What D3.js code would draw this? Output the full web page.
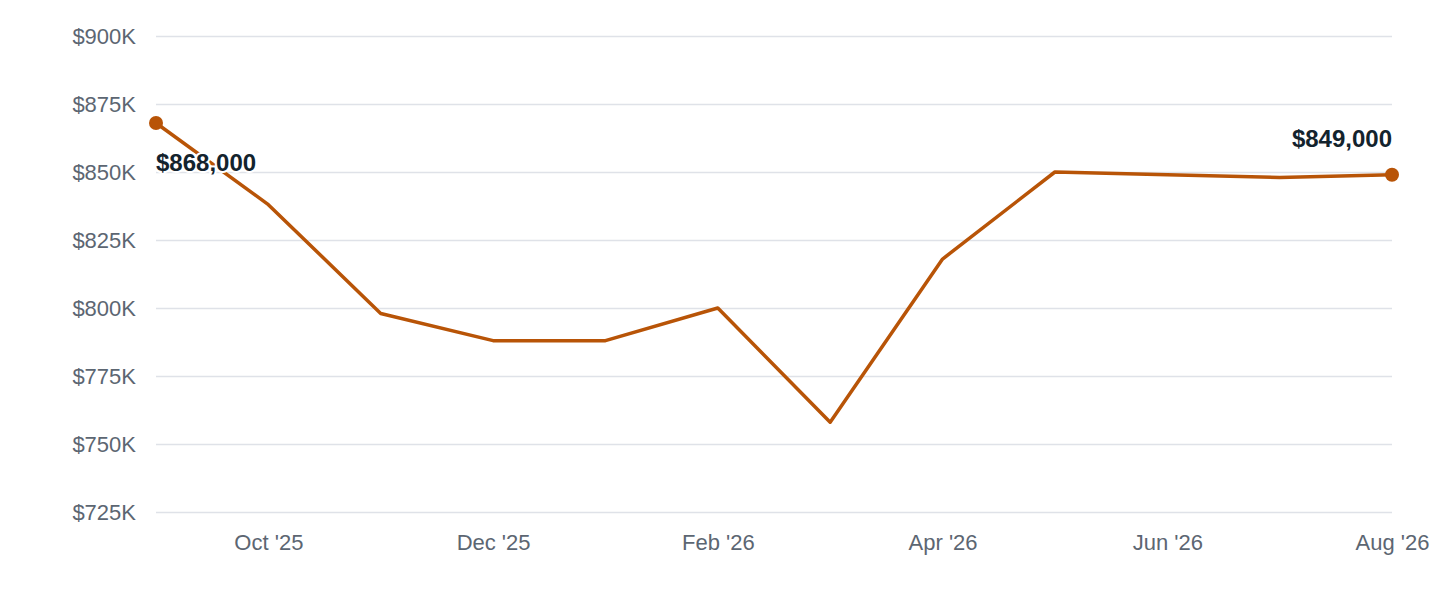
<!DOCTYPE html>
<html><head><meta charset="utf-8">
<script src="https://cdn.jsdelivr.net/npm/d3@7"></script>
<style>body{margin:0;background:#fff}svg{display:block}</style>
</head><body><svg width="1440" height="600"></svg>
<script>
const months = ["Sep '25","Oct '25","Nov '25","Dec '25","Jan '26","Feb '26","Mar '26","Apr '26","May '26","Jun '26","Jul '26","Aug '26"];
const values = [868000,838000,798000,788000,788000,800000,758000,818000,850000,849000,848000,849000];
const yTicks = [725000,750000,775000,800000,825000,850000,875000,900000];
const xTickLabels = ["Oct '25","Dec '25","Feb '26","Apr '26","Jun '26","Aug '26"];

const svg = d3.select("svg");
const x = d3.scalePoint().domain(months).range([156,1392]);
const y = d3.scaleLinear().domain([725000,900000]).range([512,36]);
const font = "Helvetica, Arial, 'Liberation Sans', sans-serif";

const ya = svg.append("g").attr("transform","translate(156,0)")
  .call(d3.axisLeft(y).tickValues(yTicks).tickSize(-1236).tickFormat(d=>"$"+d/1000+"K").tickPadding(20));
ya.select(".domain").remove();
ya.selectAll("line").attr("stroke","#dfe2e8").attr("stroke-width",1.3);
ya.selectAll("text").attr("fill","#5c6672").style("font-family",font).style("font-size","22px");

const xa = svg.append("g").attr("transform","translate(0,512)")
  .call(d3.axisBottom(x).tickValues(xTickLabels).tickSize(0).tickPadding(22));
xa.select(".domain").remove();
xa.selectAll("text").attr("fill","#5c6672").style("font-family",font).style("font-size","22px");

const color="#b85407";
svg.append("path").datum(values)
  .attr("d",d3.line().x((d,i)=>x(months[i])).y(d=>y(d)))
  .attr("fill","none").attr("stroke",color).attr("stroke-width",3.5).attr("stroke-linejoin","round");

const ends=[0,values.length-1];
svg.selectAll("circle.e").data(ends).join("circle")
  .attr("cx",i=>x(months[i])).attr("cy",i=>y(values[i])).attr("r",7).attr("fill",color);

const fmt=d3.format("$,");
[[0,"start",156,y(values[0])+48],[11,"end",1392,y(values[11])-28]].forEach(([i,anc,lx,ly])=>{
  svg.append("text").attr("x",lx).attr("y",ly).attr("text-anchor",anc)
    .attr("fill","#13232d").attr("stroke","#fff").attr("stroke-width",4).attr("paint-order","stroke")
    .style("font-family",font).style("font-size","24px").style("font-weight","bold").text(fmt(values[i]));
});
</script></body></html>
